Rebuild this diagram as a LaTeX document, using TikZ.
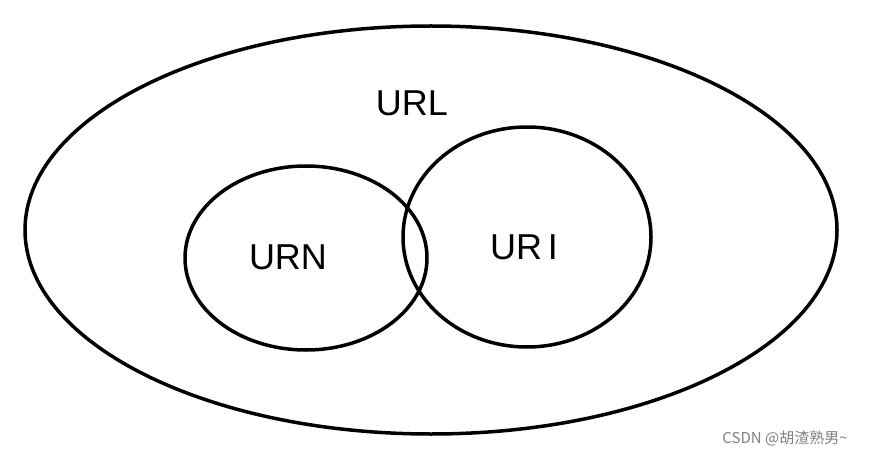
\documentclass[tikz,border=0pt]{standalone}
\usepackage{fontspec}
\setmainfont{Liberation Sans}
\newfontfamily\cjk{Noto Sans CJK SC}
\tikzset{
	setline/.style={draw=black,line width=3.5pt},
	setlabel/.style={font=\fontsize{36}{40}\selectfont},
}
\begin{document}
\begin{tikzpicture}[x=1pt,y=-1pt]
	\useasboundingbox (0,0) rectangle (880,457);
	\draw[setline] (431,230) ellipse [x radius=406, y radius=204];
	\draw[setline] (306,258) ellipse [x radius=121, y radius=92];
	\draw[setline] (527,237) ellipse [x radius=124, y radius=110];
	\node[setlabel] (url) at (412,103) {URL};
	\node[setlabel] (urn) at (288,257) {URN};
	\node[setlabel] (uri) at (524,247) {UR\,I};
	\node[text=gray,font=\cjk\fontsize{15}{18}\selectfont] (mark) at (785,438) {CSDN @胡渣熟男\textasciitilde};
\end{tikzpicture}
\end{document}
